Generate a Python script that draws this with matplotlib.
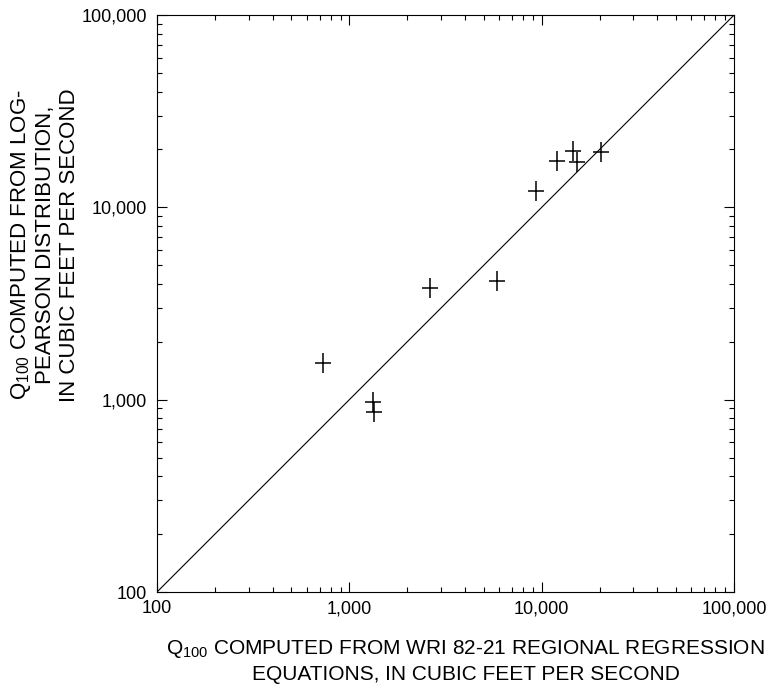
import numpy as np
import matplotlib
matplotlib.use("Agg")
import matplotlib.pyplot as plt
from matplotlib.path import Path
from matplotlib.ticker import FuncFormatter, LogLocator, NullFormatter

plt.rcParams['font.family'] = ['Liberation Sans', 'DejaVu Sans']

# 100-year peak flows, cubic feet per second
regressionQ100 = [732, 1334, 1349, 2640, 5830, 9305, 11970, 14500, 15220, 20290]
logPearsonQ100 = [1559, 977, 866, 3786, 4118, 12115, 17370, 19570, 17150, 19330]
axisLimits = [100, 100000]

# plus sign that is a little taller than it is wide
tallPlus = Path([(-0.4, 0), (0.4, 0), (0, -0.5), (0, 0.5)],
                [Path.MOVETO, Path.LINETO, Path.MOVETO, Path.LINETO])


def commaFormat(value, pos):
    return "{:,.0f}".format(value)


fig = plt.figure(figsize=(7.76, 6.9), dpi=100)
ax = fig.add_axes([0.2023, 0.1420, 0.7436, 0.8362])

# Line of equality
ax.plot(axisLimits, axisLimits, color='black', linewidth=0.8)
ax.plot(regressionQ100, logPearsonQ100, linestyle='none', marker=tallPlus,
        color='black', markersize=14, markeredgewidth=1.1)

ax.set_xscale('log')
ax.set_yscale('log')
ax.set_xlim(axisLimits)
ax.set_ylim(axisLimits)

for axis in (ax.xaxis, ax.yaxis):
    axis.set_major_locator(LogLocator(base=10))
    axis.set_minor_locator(LogLocator(base=10, subs=np.arange(2, 10)))
    axis.set_major_formatter(FuncFormatter(commaFormat))
    axis.set_minor_formatter(NullFormatter())

ax.tick_params(which='both', direction='in', top=True, right=True,
               labelsize=13, width=0.8, color='black')
ax.tick_params(which='major', length=7)
ax.tick_params(which='minor', length=3.5)
ax.tick_params(axis='x', pad=6)
ax.tick_params(axis='y', pad=7)
for spine in ax.spines.values():
    spine.set_linewidth(0.8)

fig.text(0.6, 0.042,
         "Q$_{\\mathregular{100}}$ COMPUTED FROM WRI 82-21 REGIONAL REGRESSION\n"
         "EQUATIONS, IN CUBIC FEET PER SECOND",
         ha='center', va='center', multialignment='center',
         fontsize=15, linespacing=1.3)
fig.text(0.057, 0.645,
         "Q$_{\\mathregular{100}}$ COMPUTED FROM LOG-\n"
         "PEARSON DISTRIBUTION,\n"
         "IN CUBIC FEET PER SECOND",
         ha='center', va='center', multialignment='center',
         rotation=90, fontsize=16, linespacing=1.15)

fig.savefig("out.png", dpi=100)
